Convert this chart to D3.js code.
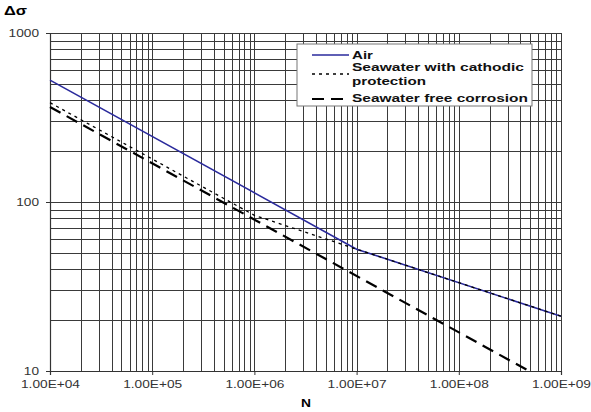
<!DOCTYPE html>
<html>
<head>
<meta charset="utf-8">
<script src="https://cdn.jsdelivr.net/npm/d3@7"></script>
<style>
  body { margin: 0; background: #fff; }
  text { font-family: "Liberation Sans", Arial, sans-serif; }
</style>
</head>
<body>
<div id="chart"></div>
<script>
// S-N curves (N, stress range)
var airN = [1e4, 1e7, 1e9];
var airS = [526, 52.6, 21.1];
var cpN = [1e4, 1e6, 1e7, 1e9];
var cpS = [387, 83.4, 52.6, 21.1];
var freeN = [1e4, 4.86e8];
var freeS = [365, 10];

var xTicks = [1e4, 1e5, 1e6, 1e7, 1e8, 1e9];
var xTickLabels = ["1.00E+04", "1.00E+05", "1.00E+06", "1.00E+07", "1.00E+08", "1.00E+09"];
var yTicks = [10, 100, 1000];
var legendNames = ["Air", "Seawater with cathodic", "protection", "Seawater free corrosion"];

var width = 591, height = 412;
var margin = {top: 33, right: 30, bottom: 41, left: 50};
var w = width - margin.left - margin.right,
    h = height - margin.top - margin.bottom;

var x = d3.scaleLog().domain([1e4, 1e9]).range([0, w]);
var y = d3.scaleLog().domain([10, 1000]).range([h, 0]);

var svg = d3.select("#chart").append("svg")
  .attr("width", width)
  .attr("height", height);

var g = svg.append("g")
  .attr("transform", "translate(" + margin.left + "," + margin.top + ")");

/* grid lines at every 1..9 x decade */
var xGrid = [], yGrid = [];
for (var d = 4; d < 9; d++) {
  for (var k = 2; k <= 10; k++) xGrid.push(k * Math.pow(10, d));
}
for (var d2 = 1; d2 < 3; d2++) {
  for (var k2 = 2; k2 <= 10; k2++) yGrid.push(k2 * Math.pow(10, d2));
}

g.selectAll(".vgrid").data(xGrid).enter().append("line")
  .attr("x1", function(v) { return Math.round(x(v)) + 0.5; })
  .attr("x2", function(v) { return Math.round(x(v)) + 0.5; })
  .attr("y1", 0).attr("y2", h)
  .attr("stroke", "#3a3a3a").attr("stroke-width", 1);

g.selectAll(".hgrid").data(yGrid).enter().append("line")
  .attr("y1", function(v) { return Math.round(y(v)) + 0.5; })
  .attr("y2", function(v) { return Math.round(y(v)) + 0.5; })
  .attr("x1", 0).attr("x2", w)
  .attr("stroke", "#3a3a3a").attr("stroke-width", 1);

// axes
var xAxis = g.append("g")
  .attr("transform", "translate(0," + h + ")")
  .call(d3.axisBottom(x).tickValues(xTicks)
    .tickFormat(function(v, i) { return xTickLabels[i]; })
    .tickSize(4).tickPadding(6));
var yAxis = g.append("g")
  .call(d3.axisLeft(y).tickValues(yTicks)
    .tickFormat(d3.format("d")).tickSize(4).tickPadding(7));

[xAxis, yAxis].forEach(function(a) {
  a.select(".domain").attr("stroke", "#333").attr("stroke-width", 1.2);
  a.selectAll(".tick line").attr("stroke", "#333");
  a.selectAll("text")
    .style("font-family", "'Liberation Sans', Arial, sans-serif")
    .style("font-size", "10.5px")
    .attr("fill", "#333")
    .attr("lengthAdjust", "spacingAndGlyphs");
});
// the reference's labels are drawn stretched sideways
xAxis.selectAll("text").attr("textLength", 59);
yAxis.selectAll("text").attr("textLength", function(v) { return String(v).length * 7.6; });

// curves
var line = d3.line()
  .x(function(p) { return x(p[0]); })
  .y(function(p) { return y(p[1]); });

function pts(ns, ss) { return ns.map(function(n, i) { return [n, ss[i]]; }); }

g.append("path").datum(pts(freeN, freeS))
  .attr("d", line).attr("fill", "none")
  .attr("stroke", "#000").attr("stroke-width", 2.2)
  .attr("stroke-dasharray", "12,7");

g.append("path").datum(pts(airN, airS))
  .attr("d", line).attr("fill", "none")
  .attr("stroke", "#2a2a9c").attr("stroke-width", 1.6);

g.append("path").datum(pts(cpN, cpS))
  .attr("d", line).attr("fill", "none")
  .attr("stroke", "#000").attr("stroke-width", 1.3)
  .attr("stroke-dasharray", "3,4");

// legend
var lg = svg.append("g").attr("transform", "translate(297,44)");
lg.append("rect")
  .attr("width", 235).attr("height", 62)
  .attr("fill", "#fff").attr("stroke", "#777").attr("stroke-width", 1);

lg.append("line").attr("x1", 15).attr("x2", 52).attr("y1", 11).attr("y2", 11)
  .attr("stroke", "#2a2a9c").attr("stroke-width", 1.6);
lg.append("line").attr("x1", 15).attr("x2", 52).attr("y1", 30).attr("y2", 30)
  .attr("stroke", "#000").attr("stroke-width", 1.3).attr("stroke-dasharray", "3,4");
lg.append("line").attr("x1", 15).attr("x2", 52).attr("y1", 55).attr("y2", 55)
  .attr("stroke", "#000").attr("stroke-width", 2.2).attr("stroke-dasharray", "12,7");

var legY = [15, 27, 41, 58];
var legW = [21, 172, 74, 176];
lg.selectAll(".lt").data(legendNames).enter().append("text")
  .attr("x", 55)
  .attr("y", function(t, i) { return legY[i]; })
  .attr("textLength", function(t, i) { return legW[i]; })
  .attr("lengthAdjust", "spacingAndGlyphs")
  .style("font-size", "11.5px").style("font-weight", "bold")
  .attr("fill", "#111")
  .text(function(t) { return t; });

// axis titles
svg.append("text").attr("x", 4).attr("y", 15)
  .attr("textLength", 23).attr("lengthAdjust", "spacingAndGlyphs")
  .style("font-size", "12px").style("font-weight", "bold")
  .text("\u0394\u03c3");
svg.append("text").attr("x", 301).attr("y", 407)
  .attr("textLength", 10).attr("lengthAdjust", "spacingAndGlyphs")
  .style("font-size", "10px").style("font-weight", "bold")
  .text("N");
</script>
</body>
</html>
